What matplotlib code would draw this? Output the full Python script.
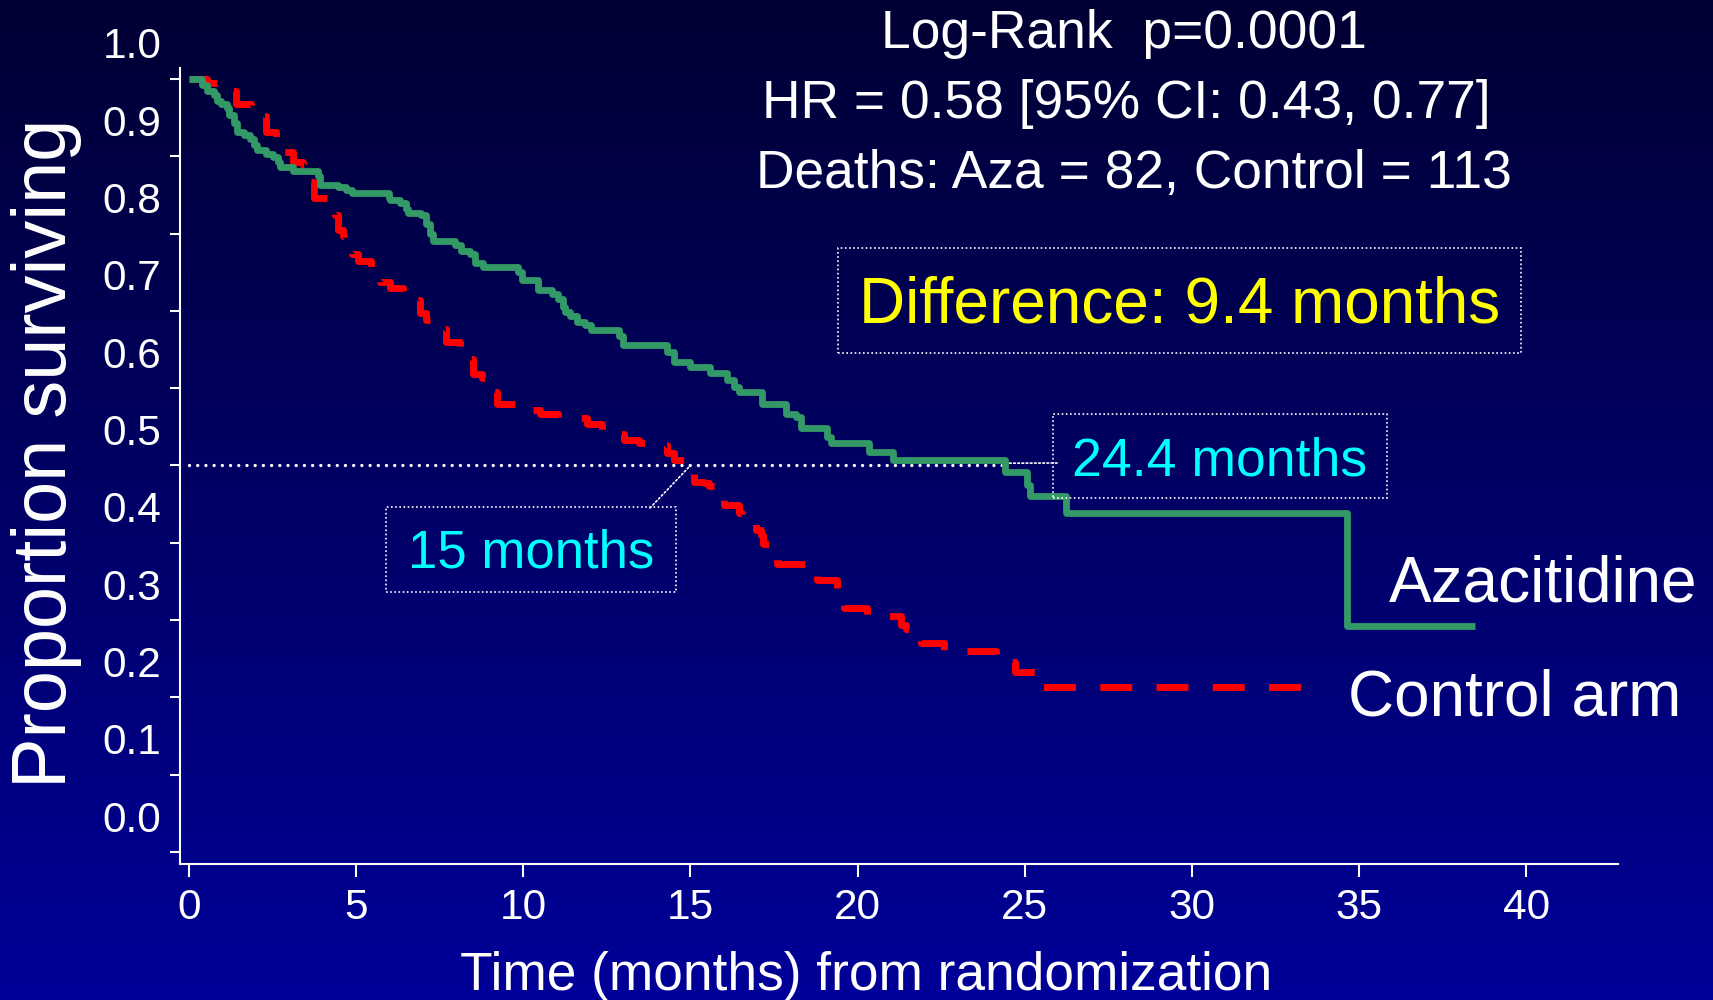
import matplotlib
matplotlib.use('Agg')
import numpy as np
import matplotlib.pyplot as plt
import matplotlib.transforms as mtransforms
from matplotlib.patches import Rectangle

plt.rcParams['font.family'] = ['Liberation Sans', 'DejaVu Sans']
plt.rcParams['lines.scale_dashes'] = False

W, H = 1713, 1000

# Kaplan-Meier steps: (time in months, survival after the step)
aza_time = [0, 0.4, 0.55, 0.75, 0.83, 0.95, 1.15, 1.2, 1.35, 1.43, 1.65, 1.82, 1.95, 2.02,
            2.3, 2.52, 2.65, 2.72, 3.12, 3.85, 3.92, 4.45, 4.7, 4.87, 5.98, 6.02, 6.3, 6.5,
            6.56, 6.95, 7.08, 7.2, 7.3, 7.95, 8.15, 8.4, 8.55, 8.8, 9.85, 9.95, 10.45, 10.85,
            11.05, 11.2, 11.25, 11.4, 11.6, 11.85, 12.02, 12.85, 12.97, 14.3, 14.5, 15.0,
            15.6, 16.1, 16.3, 16.45, 17.15, 17.85, 18.15, 18.3, 19.1, 19.2, 20.35, 21.07,
            24.41, 25.06, 25.15, 26.25, 34.63]
aza_surv = [1.0, 0.992, 0.984, 0.979, 0.971, 0.967, 0.962, 0.953, 0.943, 0.932, 0.927, 0.922,
            0.915, 0.908, 0.903, 0.899, 0.893, 0.886, 0.881, 0.875, 0.863, 0.860, 0.856, 0.852,
            0.846, 0.843, 0.840, 0.832, 0.827, 0.824, 0.812, 0.800, 0.790, 0.785, 0.778, 0.773,
            0.762, 0.757, 0.750, 0.740, 0.727, 0.722, 0.716, 0.705, 0.699, 0.693, 0.686, 0.682,
            0.675, 0.667, 0.656, 0.647, 0.634, 0.627, 0.620, 0.611, 0.602, 0.595, 0.580, 0.567,
            0.563, 0.548, 0.537, 0.529, 0.518, 0.507, 0.491, 0.475, 0.460, 0.439, 0.292]
aza_last = 38.47

ctrl_time = [0, 0.55, 0.95, 1.1, 1.4, 1.85, 1.95, 2.3, 2.6, 2.75, 2.8, 3.1, 3.4, 3.47, 3.6,
             3.75, 4.2, 4.3, 4.37, 4.47, 4.6, 4.65, 4.8, 4.87, 5.05, 5.45, 5.55, 5.65, 5.72,
             6.0, 6.4, 6.55, 6.9, 7.1, 7.22, 7.7, 8.12, 8.22, 8.5, 8.75, 8.88, 8.95, 9.2, 9.75,
             9.85, 10.5, 11.05, 11.9, 12.35, 12.55, 13.0, 13.45, 13.7, 14.3, 14.5, 14.8, 14.95,
             15.1, 15.4, 15.55, 15.7, 16.0, 16.45, 16.55, 16.95, 17.1, 17.17, 17.6, 18.8, 19.4,
             19.6, 20.27, 21.3, 21.45, 21.9, 22.6, 24.15, 24.72, 25.5]
ctrl_surv = [1.0, 0.995, 0.99, 0.985, 0.968, 0.958, 0.952, 0.932, 0.925, 0.919, 0.906, 0.893,
             0.889, 0.874, 0.867, 0.846, 0.838, 0.831, 0.824, 0.805, 0.797, 0.790, 0.783, 0.774,
             0.764, 0.756, 0.750, 0.744, 0.738, 0.729, 0.723, 0.714, 0.697, 0.688, 0.677, 0.660,
             0.648, 0.638, 0.619, 0.613, 0.604, 0.595, 0.580, 0.576, 0.572, 0.567, 0.561, 0.554,
             0.546, 0.541, 0.533, 0.529, 0.527, 0.516, 0.507, 0.503, 0.497, 0.479, 0.477, 0.473,
             0.462, 0.449, 0.438, 0.427, 0.417, 0.410, 0.399, 0.372, 0.352, 0.334, 0.316, 0.305,
             0.294, 0.289, 0.270, 0.260, 0.246, 0.233, 0.214]
ctrl_last = 33.3

aza_median = 24.4
ctrl_median = 15.0

x_ticks = [0, 5, 10, 15, 20, 25, 30, 35, 40]
y_ticks = [0.0, 0.1, 0.2, 0.3, 0.4, 0.5, 0.6, 0.7, 0.8, 0.9, 1.0]

stats_lines = ['Log-Rank  p=0.0001',
               'HR = 0.58 [95% CI: 0.43, 0.77]',
               'Deaths: Aza = 82, Control = 113']


def fx(x):
    return x / W


def fy(y):
    return 1 - y / H


fig = plt.figure(figsize=(W / 100, H / 100), dpi=100)

# background gradient
bg = fig.add_axes([0, 0, 1, 1], zorder=-10)
grad = np.linspace(0, 1, 256).reshape(-1, 1)
rgb = np.zeros((256, 1, 3))
rgb[:, 0, 2] = 0.2 + 0.4 * grad[:, 0]
bg.imshow(rgb, aspect='auto', extent=[0, 1, 0, 1], origin='upper')
bg.axis('off')

ax = fig.add_axes([180 / W, 1 - 864 / H, (1618 - 180) / W, (864 - 68) / H])
ax.set_facecolor('none')
ax.set_xlim(-0.27, 42.75)
ax.set_ylim(-0.0155, 1.0142)

ax.step(ctrl_time + [ctrl_last], ctrl_surv + [ctrl_surv[-1]], where='post',
        color='#ff0000', lw=5.0, dashes=(23, 17.5), dash_capstyle='butt', zorder=3)
ax.step(aza_time + [aza_last], aza_surv + [aza_surv[-1]], where='post',
        color='#339966', lw=4.9, solid_capstyle='butt', zorder=4)

# median line
ax.plot([0, aza_median], [0.5, 0.5], color='white', lw=2.4,
        dashes=(0.01, 5.9), dash_capstyle='round', zorder=2)

for s in ['top', 'right']:
    ax.spines[s].set_visible(False)
for s in ['left', 'bottom']:
    ax.spines[s].set_color('white')
    ax.spines[s].set_linewidth(1.5)

ax.set_xticks(x_ticks)
ax.set_xticklabels([str(v) for v in x_ticks])
ax.set_yticks(y_ticks)
ax.set_yticklabels([f'{v:.1f}' for v in y_ticks])
ax.tick_params(axis='x', colors='white', labelsize=30.5, length=9.5, width=1.5, pad=8)
ax.tick_params(axis='y', colors='white', labelsize=30.5, length=7.5, width=1.5, pad=6)

offset = mtransforms.ScaledTranslation(0, 36 / 100, fig.dpi_scale_trans)
for lab in ax.get_yticklabels():
    lab.set_transform(lab.get_transform() + offset)

# axis titles
fig.text(fx(47), fy(453), 'Proportion surviving', rotation=90, color='white',
         fontsize=54.5, ha='center', va='center')
fig.text(fx(866), fy(990), 'Time (months) from randomization', color='white',
         fontsize=38.3, ha='center', va='baseline')

# statistics
baselines = [48, 118, 188]
centers = [1124, 1126, 1134]
for line, b, c in zip(stats_lines, baselines, centers):
    fig.text(fx(c), fy(b), line, color='white', fontsize=38.4, ha='center', va='baseline')

dotted = (0, (1.2, 1.8))


def box(x0, y0, x1, y1):
    fig.add_artist(Rectangle((fx(x0), fy(y1)), (x1 - x0) / W, (y1 - y0) / H,
                             transform=fig.transFigure, fill=False, ec='white',
                             lw=1.2, ls=dotted))


box(838, 248, 1521, 353)
fig.text(fx(1180), fy(322), 'Difference: 9.4 months', color='#ffff00', fontsize=46,
         ha='center', va='baseline')

box(1053, 414, 1387, 498)
fig.text(fx(1220), fy(476), f'{aza_median} months', color='#00ffff', fontsize=38.5,
         ha='center', va='baseline')

box(386, 507, 676, 592)
fig.text(fx(531), fy(568), f'{ctrl_median:.0f} months', color='#00ffff', fontsize=38,
         ha='center', va='baseline')

# leader lines
ax.annotate('', xy=(ctrl_median, 0.5), xycoords='data',
            xytext=(fx(650), fy(508)), textcoords='figure fraction',
            arrowprops=dict(arrowstyle='-', color='white', lw=1.2, ls=dotted,
                            shrinkA=0, shrinkB=0))
ax.annotate('', xy=(aza_median + 0.1, 0.503), xycoords='data',
            xytext=(fx(1057), fy(463)), textcoords='figure fraction',
            arrowprops=dict(arrowstyle='-', color='white', lw=1.2, ls=dotted,
                            shrinkA=0, shrinkB=0))

# series labels
fig.text(fx(1389), fy(602), 'Azacitidine', color='white', fontsize=46, ha='left', va='baseline')
fig.text(fx(1348), fy(716), 'Control arm', color='white', fontsize=46, ha='left', va='baseline')

fig.savefig('out.png', dpi=100)
